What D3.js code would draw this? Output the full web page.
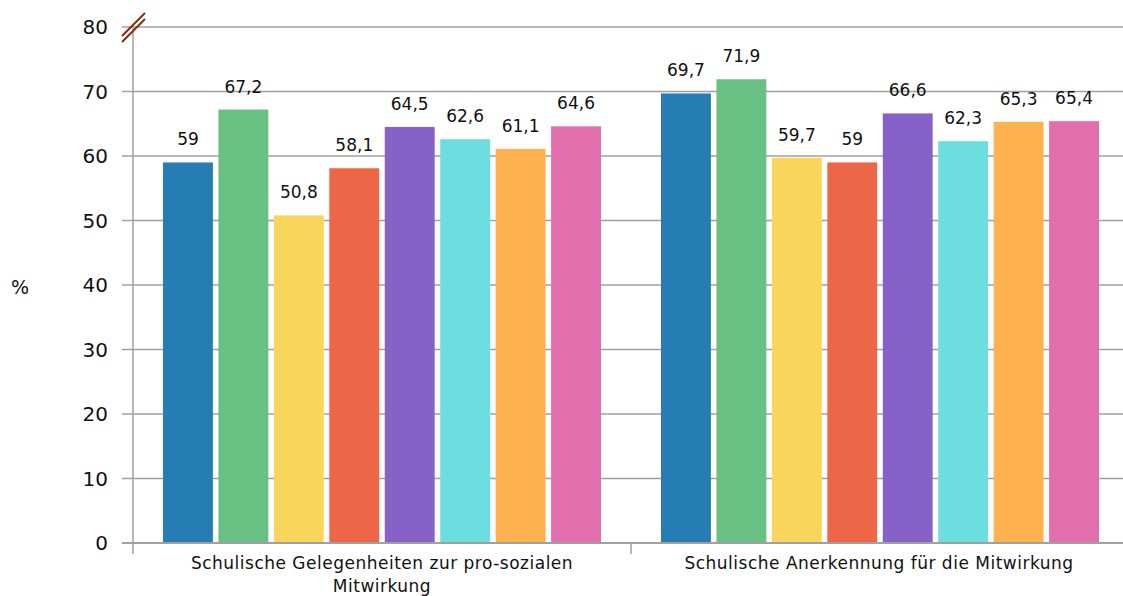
<!DOCTYPE html>
<html><head><meta charset="utf-8">
<script src="https://cdn.jsdelivr.net/npm/d3@7"></script>
<style>body{margin:0;background:#fff}svg{display:block;font-family:"DejaVu Sans",sans-serif}</style>
</head><body><svg id="c" width="1123" height="596"></svg>
<script>
const categories = ["Schulische Gelegenheiten zur pro-sozialen Mitwirkung", "Schulische Anerkennung für die Mitwirkung"];
const series = ["S1","S2","S3","S4","S5","S6","S7","S8"];
const values = [
  [59, 67.2, 50.8, 58.1, 64.5, 62.6, 61.1, 64.6],
  [69.7, 71.9, 59.7, 59, 66.6, 62.3, 65.3, 65.4]
];
const colors = ["#267db3","#68c182","#fad55c","#ed6647","#8561c8","#6ddedf","#fdb24f","#e16fae"];
const yTicks = [0,10,20,30,40,50,60,70,80];

const svg = d3.select("#c");
const x0 = d3.scaleBand().domain(categories).range([133,1129]).paddingInner(0).paddingOuter(0);
const x1 = d3.scaleBand().domain(series).range([30, x0.bandwidth()-30]).paddingInner(0.1);
const y = d3.scaleLinear().domain([0,80]).range([543,27]);

svg.append("g").selectAll("line").data(yTicks).join("line")
  .attr("x1",122).attr("x2",1123).attr("y1",d=>y(d)).attr("y2",d=>y(d))
  .attr("stroke","#a0a0a0").attr("stroke-width",1.5);
svg.append("g").selectAll("text").data(yTicks).join("text")
  .attr("x",108).attr("y",d=>y(d)).attr("dy","0.35em").attr("text-anchor","end")
  .attr("font-size",20).attr("fill","#111").text(d=>d);
svg.append("text").attr("x",20).attr("y",287).attr("dy","0.35em").attr("text-anchor","middle")
  .attr("font-size",19).attr("fill","#111").text("%");

const g = svg.append("g").selectAll("g").data(categories).join("g")
  .attr("transform",d=>`translate(${x0(d)},0)`);
g.selectAll("rect").data((d,i)=>values[i].map((v,j)=>({s:series[j],v,j}))).join("rect")
  .attr("x",d=>x1(d.s)).attr("width",x1.bandwidth())
  .attr("y",d=>y(d.v)).attr("height",d=>y(0)-y(d.v)).attr("fill",d=>colors[d.j]);
g.selectAll("text").data((d,i)=>values[i].map((v,j)=>({s:series[j],v,j}))).join("text")
  .attr("x",d=>x1(d.s)+x1.bandwidth()/2).attr("y",d=>y(d.v)-17)
  .attr("text-anchor","middle").attr("font-size",17).attr("fill","#111")
  .text(d=>String(d.v).replace(".",","));

svg.append("line").attr("x1",133).attr("x2",133).attr("y1",27).attr("y2",554)
  .attr("stroke","#a0a0a0").attr("stroke-width",1.5);
svg.append("line").attr("x1",122).attr("x2",1123).attr("y1",543).attr("y2",543)
  .attr("stroke","#a0a0a0").attr("stroke-width",2);
svg.append("g").selectAll("line").data(categories.slice(1)).join("line")
  .attr("x1",d=>x0(d)).attr("x2",d=>x0(d)).attr("y1",543).attr("y2",554)
  .attr("stroke","#a0a0a0").attr("stroke-width",1.5);

const lbl = [["Schulische Gelegenheiten zur pro-sozialen","Mitwirkung"],["Schulische Anerkennung für die Mitwirkung"]];
categories.forEach((c,i)=>{
  const cx = x0(c)+x0.bandwidth()/2 - (i==1?1:0);
  const t = svg.append("text").attr("x",cx).attr("y",569)
    .attr("text-anchor","middle").attr("font-size",17).attr("letter-spacing",0.5).attr("fill","#111");
  lbl[i].forEach((l,k)=>t.append("tspan").attr("x",cx).attr("dy",k?23:0).text(l));
});

[0,6].forEach(o=>{
  svg.append("line").attr("x1",122).attr("y1",36+o).attr("x2",145).attr("y2",13+o)
    .attr("stroke","#8b2a0a").attr("stroke-width",2);
});
</script></body></html>
